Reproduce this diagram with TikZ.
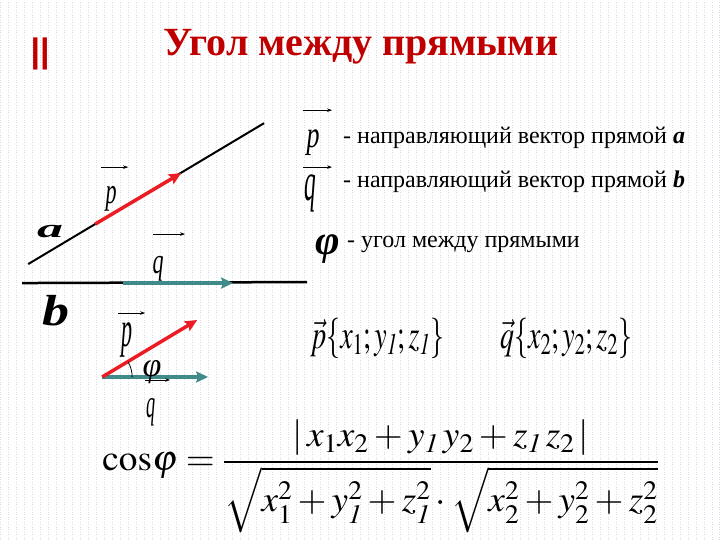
\documentclass[tikz,border=0pt]{standalone}
\usepackage{mathptmx}
\usepackage{amsmath}
\usepackage{fontspec}
\setmainfont{Liberation Serif}
\newfontfamily\arialfont{Liberation Sans}
\usetikzlibrary{arrows.meta}

\definecolor{titlered}{RGB}{192,0,0}
\definecolor{vecred}{RGB}{236,28,36}
\definecolor{vecteal}{RGB}{64,138,138}
\definecolor{dotgrid}{RGB}{214,222,232}

\newcommand{\fsz}[1]{\fontsize{#1}{#1}\selectfont}
\newcommand{\stretchlet}[3]{\scalebox{#1}[#2]{#3}}

\begin{document}
\begin{tikzpicture}[x=1pt, y=-1pt,
    lbl/.style={inner sep=0pt, anchor=base},
    vecarr/.style={-{Stealth[length=5pt,width=3.5pt]}, line width=0.7pt},
    redvec/.style={vecred, line width=3.5pt, -{Stealth[length=12pt,width=11pt,inset=2pt]}},
    tealvec/.style={vecteal, line width=4pt, -{Stealth[length=12pt,width=11pt,inset=2pt]}},
    legtext/.style={inner sep=0pt, anchor=base west, font=\fsz{24}}]
    % фон в точку
    \fill[white] (0,0) rectangle (720,540);
    \draw[dotgrid, dotted, line width=0.5pt, step=8] (0,0) grid (720,540);
    \useasboundingbox (0,0) rectangle (720,540);

    % заголовок
    \node[text=titlered, font=\arialfont\bfseries\fsz{34}] (mark) at (40,54) {||};
    \node[lbl, anchor=base west, text=titlered, font=\bfseries\fsz{40}] (title) at (163,55) {Угол между прямыми};

    % прямые a и b
    \coordinate (a1) at (28,264);
    \coordinate (a2) at (264,123);
    \coordinate (b1) at (22,283);
    \coordinate (b2) at (307,282);
    \draw[line width=2pt] (a1) -- (a2);
    \draw[line width=2.5pt] (b1) -- (b2);
    \coordinate (p1) at (95,224);
    \coordinate (p2) at (181,173);
    \draw[redvec] (p1) -- (p2);
    \coordinate (q1) at (123,283);
    \coordinate (q2) at (233,283);
    \draw[tealvec] (q1) -- (q2);

    \node[lbl, font=\fsz{26}\itshape] (lp) at (111,203) {\stretchlet{0.85}{1.4}{p}};
    \draw[vecarr] ([shift={(-10,-36)}]lp.base) -- ++(27,0);
    \node[lbl, font=\bfseries\itshape\fsz{26}] (la) at (50,237) {\stretchlet{2}{1}{a}};
    \node[lbl, font=\fsz{26}\itshape] (lq) at (158,273) {\stretchlet{0.85}{1.4}{q}};
    \draw[vecarr] ([shift={(-5,-39)}]lq.base) -- ++(32,0);
    \node[lbl, font=\bfseries\itshape\fsz{30}] (lb) at (56,325) {\stretchlet{1.8}{1.45}{b}};

    % угол между векторами
    \coordinate (o) at (102,377);
    \coordinate (r2) at (197,320);
    \coordinate (t2) at (208,377);
    \draw[tealvec] (o) -- (t2);
    \draw[redvec] (o) -- (r2);
    \draw[line width=0.8pt] ([xshift=30pt]o) arc[start angle=0, end angle=-30, radius=30];
    \node[lbl, font=\fsz{26}\itshape] (lp2) at (127,346) {\stretchlet{0.85}{1.95}{p}};
    \draw[vecarr] ([shift={(-9,-33)}]lp2.base) -- ++(27,0);
    \node[font=\itshape\fsz{34}, inner sep=0pt] (lphi) at (152,372) {φ};
    \node[lbl, font=\fsz{26}\itshape] (lq2) at (151,418) {\stretchlet{0.7}{1.55}{q}};
    \draw[vecarr] ([shift={(-6,-38)}]lq2.base) -- ++(25,0);

    % пояснения
    \node[lbl, font=\fsz{26}\itshape] (lp3) at (313,147) {\stretchlet{1}{1.45}{p}};
    \draw[vecarr] ([shift={(-10,-37)}]lp3.base) -- ++(29,0);
    \node[legtext] (txt1) at (343,143) {- направляющий вектор прямой \textbf{\textit{a}}};
    \node[lbl, font=\fsz{26}\itshape] (lq3) at (310,200) {\stretchlet{0.9}{2.1}{q}};
    \draw[vecarr] ([shift={(-7,-33)}]lq3.base) -- ++(29,0);
    \node[legtext] (txt2) at (343,187) {- направляющий вектор прямой \textbf{\textit{b}}};
    \node[lbl, font=\bfseries\itshape\fsz{42}] (lphi3) at (328,254) {φ};
    \node[legtext] (txt3) at (347,247) {- угол между прямыми};

    % координаты векторов
    \node[lbl, anchor=base west, font=\fsz{28}] (cp) at (310,348) {\stretchlet{1}{1.45}{$\vec{p}\{x_1;y_{\mathit{1}};z_{\mathit{1}}\}$}};
    \node[lbl, anchor=base west, font=\fsz{28}] (cq) at (500,348) {\stretchlet{1}{1.45}{$\vec{q}\{x_2;y_2;z_2\}$}};

    % формула
    \node[lbl, anchor=base west, font=\fsz{36}] (cosf) at (102,471) {\stretchlet{1.035}{1}{$\mathrm{cos}\varphi=\dfrac{|\,x_1x_2+y_{\mathit{1}}\,y_2+z_{\mathit{1}}\,z_2\,|}{\sqrt{x_1^2+y_{\mathit{1}}^2+z_{\mathit{1}}^2}\cdot\sqrt{x_2^2+y_2^2+z_2^2}}$}};
\end{tikzpicture}
\end{document}
